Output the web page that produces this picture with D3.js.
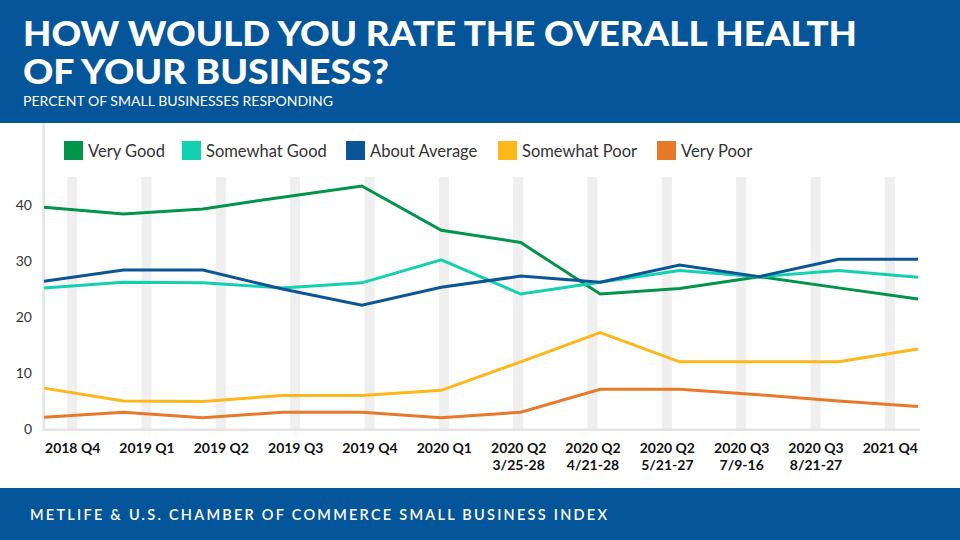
<!DOCTYPE html>
<html>
<head>
<meta charset="utf-8">
<script src="https://cdn.jsdelivr.net/npm/d3@7"></script>
<style>
  html, body { margin: 0; padding: 0; background: #fff; }
  svg { display: block; }
  text { font-family: Lato, "Open Sans", sans-serif; }
</style>
</head>
<body>
<svg id="chart" width="960" height="540"></svg>
<script>
// ---- DATA ----
const categories = [
  "2018 Q4", "2019 Q1", "2019 Q2", "2019 Q3", "2019 Q4", "2020 Q1",
  "2020 Q2|3/25-28", "2020 Q2|4/21-28", "2020 Q2|5/21-27",
  "2020 Q3|7/9-16", "2020 Q3|8/21-27", "2021 Q4"
];
const seriesNames = ["Very Good", "Somewhat Good", "About Average", "Somewhat Poor", "Very Poor"];
const veryGood      = [39.6, 38.4, 39.3, 41.4, 43.4, 35.5, 33.3, 24.1, 25.1, 27.2, 25.2, 23.2];
const somewhatGood  = [25.2, 26.2, 26.1, 25.2, 26.1, 30.2, 24.1, 26.2, 28.3, 27.2, 28.3, 27.1];
const aboutAverage  = [26.4, 28.4, 28.4, 25.0, 22.1, 25.3, 27.3, 26.2, 29.3, 27.2, 30.3, 30.3];
const somewhatPoor  = [7.3, 5.0, 4.9, 6.0, 6.0, 6.9, 12.0, 17.2, 12.0, 12.0, 12.0, 14.3];
const veryPoor      = [2.1, 3.0, 2.0, 3.0, 3.0, 2.0, 3.0, 7.1, 7.1, 6.1, 5.0, 4.0];
const yTicks = [0, 10, 20, 30, 40];
const colors = ["#00954A", "#12D0B0", "#0B5496", "#FDB71A", "#E8792A"];

const seriesValues = [veryGood, somewhatGood, aboutAverage, somewhatPoor, veryPoor];

const svg = d3.select("#chart");
const W = 960, H = 540;
const headerBlue = "#04559A";

// Header
svg.append("rect").attr("x", 0).attr("y", 0).attr("width", W).attr("height", 123).attr("fill", headerBlue);
svg.append("text").attr("x", 23).attr("y", 46)
  .attr("fill", "#fff").attr("font-size", 34).attr("font-weight", 900)
  .attr("textLength", 834).attr("lengthAdjust", "spacingAndGlyphs")
  .text("HOW WOULD YOU RATE THE OVERALL HEALTH");
svg.append("text").attr("x", 23).attr("y", 84)
  .attr("fill", "#fff").attr("font-size", 34).attr("font-weight", 900)
  .attr("textLength", 366).attr("lengthAdjust", "spacingAndGlyphs")
  .text("OF YOUR BUSINESS?");
svg.append("text").attr("x", 23).attr("y", 106)
  .attr("fill", "#fff").attr("font-size", 13).attr("font-weight", 400)
  .attr("textLength", 310).attr("lengthAdjust", "spacingAndGlyphs")
  .text("PERCENT OF SMALL BUSINESSES RESPONDING");

// Footer
svg.append("rect").attr("x", 0).attr("y", 488).attr("width", W).attr("height", 52).attr("fill", headerBlue);
svg.append("text").attr("x", 30).attr("y", 520)
  .attr("fill", "#fff").attr("font-size", 14.5).attr("font-weight", 600)
  .attr("textLength", 577).attr("lengthAdjust", "spacing")
  .text("METLIFE & U.S. CHAMBER OF COMMERCE SMALL BUSINESS INDEX");

// Scales
const y = d3.scaleLinear().domain([0, 10]).range([429, 373]);
const xLine = d3.scalePoint().domain(categories).range([44, 918]);
const xBand = d3.scalePoint().domain(categories).range([35, 927]).padding(0.5);

// Gray bands
svg.append("g").selectAll("rect").data(categories).join("rect")
  .attr("x", d => xBand(d) - 5).attr("width", 10)
  .attr("y", 177).attr("height", y(0) - 177)
  .attr("fill", "#EFEFEF");

// Axis lines
svg.append("rect").attr("x", 42.5).attr("y", 123).attr("width", 2.5).attr("height", 308).attr("fill", "#E4E4E4");
svg.append("rect").attr("x", 42.5).attr("y", 428.5).attr("width", 877.5).attr("height", 2.5).attr("fill", "#E4E4E4");

// Y axis labels
const yAxis = d3.axisLeft(y).tickValues(yTicks).tickSize(0).tickPadding(0);
const gy = svg.append("g").attr("transform", "translate(32,0)").call(yAxis);
gy.select(".domain").remove();
gy.selectAll("text").attr("font-size", 14).attr("fill", "#333").attr("font-family", "Lato, sans-serif");

// X axis labels (band centers)
const xAxis = d3.axisBottom(xBand).tickSize(0).tickFormat(() => "");
const gx = svg.append("g").attr("transform", "translate(0,440)").call(xAxis);
gx.select(".domain").remove();
gx.selectAll(".tick").each(function(d) {
  const parts = d.split("|");
  const t = d3.select(this).append("text")
    .attr("text-anchor", "middle").attr("fill", "#111")
    .attr("font-size", 14).attr("font-weight", 700)
    .attr("font-family", "Lato, sans-serif");
  parts.forEach((p, i) => {
    t.append("tspan").attr("x", 0).attr("y", 13 + i * 17).text(p);
  });
});

// Lines
const line = d3.line().x((v, i) => xLine(categories[i])).y(v => y(v));
const order = [4, 3, 0, 1, 2];
svg.append("g").selectAll("path").data(order).join("path")
  .attr("d", k => line(seriesValues[k]))
  .attr("fill", "none")
  .attr("stroke", k => colors[k])
  .attr("stroke-width", 3)
  .attr("stroke-linejoin", "miter");

// Legend
const legendX = [64, 182, 346, 498, 657];
const lg = svg.append("g").selectAll("g").data(seriesNames).join("g")
  .attr("transform", (d, i) => `translate(${legendX[i]},141)`);
lg.append("rect").attr("width", 19).attr("height", 19).attr("fill", (d, i) => colors[i]);
lg.append("text").attr("x", 24).attr("y", 15.5)
  .attr("font-size", 16.5).attr("fill", "#333").text(d => d);
</script>
</body>
</html>
